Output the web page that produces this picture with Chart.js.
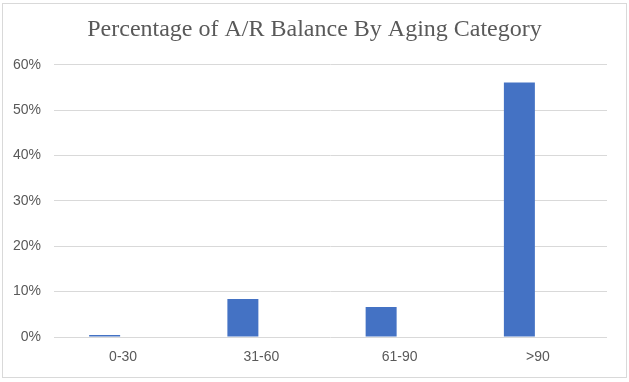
<!DOCTYPE html>
<html>
<head>
<meta charset="utf-8">
<script src="https://cdn.jsdelivr.net/npm/chart.js@4/dist/chart.umd.min.js"></script>
<style>
html,body{margin:0;padding:0;background:#fff;}
#wrap{position:relative;width:629px;height:382px;}
</style>
</head>
<body>
<div id="wrap"><canvas id="c" width="629" height="382"></canvas></div>
<script>
const categories = ["0-30", "31-60", "61-90", ">90"];
const shareOfBalance = [0.0045, 0.084, 0.066, 0.561];
const emptySeries = [null, null, null, null];
const yTicks = [0, 0.1, 0.2, 0.3, 0.4, 0.5, 0.6];
const titleText = "Percentage of A/R Balance By Aging Category";

const frame = {
  id: 'frame',
  afterDraw(chart) {
    const ctx = chart.ctx;
    ctx.save();
    ctx.strokeStyle = '#d9d9d9';
    ctx.lineWidth = 1;
    ctx.strokeRect(2.5, 3.5, 624, 374);
    ctx.restore();
  }
};

new Chart(document.getElementById('c'), {
  type: 'bar',
  data: {
    labels: categories,
    datasets: [
      { label: 'Share', data: shareOfBalance, backgroundColor: '#4472C4',
        categoryPercentage: 0.535, barPercentage: 0.838 },
      { label: 'Empty', data: emptySeries, backgroundColor: '#ED7D31',
        categoryPercentage: 0.535, barPercentage: 0.838 }
    ]
  },
  options: {
    responsive: false,
    animation: false,
    devicePixelRatio: 1,
    layout: { padding: 0 },
    plugins: {
      legend: { display: false },
      tooltip: { enabled: false },
      title: {
        display: true,
        text: titleText,
        color: '#595959',
        font: { family: '"Liberation Serif", "Times New Roman", serif', size: 24, weight: 'normal' },
        padding: { top: 15, bottom: 21 }
      }
    },
    scales: {
      x: {
        grid: { display: false, drawTicks: false },
        border: { display: false },
        ticks: { color: '#595959', padding: 12, font: { family: '"Liberation Sans", Arial, sans-serif', size: 14 } },
        afterFit(scale) { scale.height = 45; }
      },
      y: {
        min: 0, max: 0.6,
        afterBuildTicks(scale) { scale.ticks = yTicks.map(v => ({ value: v })); },
        grid: { color: '#d9d9d9', lineWidth: 1, drawTicks: false },
        border: { display: false },
        ticks: {
          color: '#595959', padding: 13,
          font: { family: '"Liberation Sans", Arial, sans-serif', size: 14 },
          callback: v => Math.round(v * 100) + '%'
        },
        afterFit(scale) { scale.width = 54; }
      },
      yRight: {
        position: 'right',
        display: true,
        grid: { display: false, drawTicks: false },
        border: { display: false },
        ticks: { display: false },
        afterFit(scale) { scale.width = 22; }
      }
    }
  },
  plugins: [frame]
});
</script>
</body>
</html>
